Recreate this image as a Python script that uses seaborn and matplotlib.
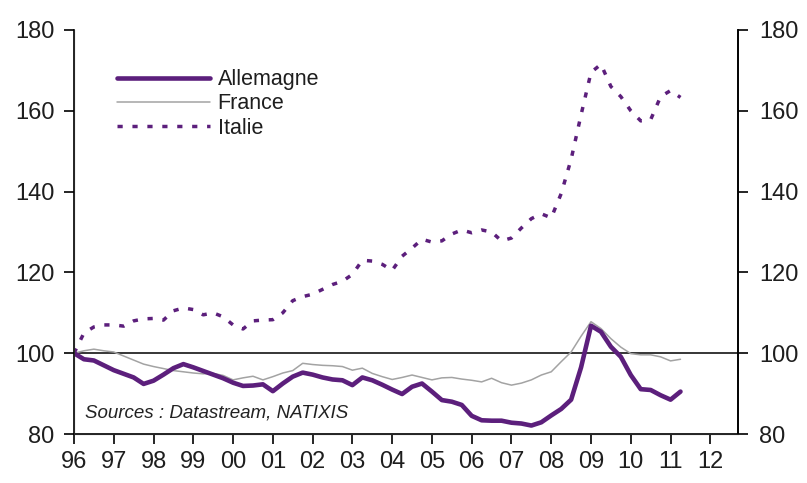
import numpy as np
import pandas as pd
import seaborn as sns
import matplotlib.pyplot as plt

# quarterly index, 96Q1 = 100
allemagne = [100, 98.5, 98.2, 97, 95.8, 94.9, 94, 92.4, 93.2, 94.7, 96.3, 97.3,
             96.5, 95.6, 94.7, 93.8, 92.7, 91.9, 92, 92.3, 90.6, 92.5, 94.2, 95.2,
             94.7, 94, 93.5, 93.3, 92.1, 94, 93.3, 92.2, 91, 89.9, 91.7, 92.5,
             90.5, 88.4, 88, 87.2, 84.5, 83.4, 83.3, 83.3, 82.8, 82.6, 82.1, 82.9,
             84.6, 86.2, 88.5, 96.5, 106.8, 105.3, 101.6, 99.1, 94.6, 91.1, 90.9, 89.6,
             88.5, 90.5]
france = [100, 100.6, 101, 100.6, 100.3, 99.3, 98.3, 97.3, 96.7, 96.2, 95.7, 95.4,
          95.1, 94.9, 95, 94.5, 93.4, 93.9, 94.3, 93.4, 94.2, 95.1, 95.7, 97.5,
          97.2, 97, 96.9, 96.7, 95.8, 96.3, 95, 94.2, 93.5, 94, 94.6, 94,
          93.4, 93.9, 94, 93.6, 93.3, 92.9, 93.8, 92.7, 92.1, 92.6, 93.4, 94.6,
          95.4, 97.9, 100.3, 104.2, 107.8, 106.1, 103.6, 101.5, 99.9, 99.6, 99.6, 99.1,
          98.1, 98.5]
italie = [100, 105, 106.5, 107, 107, 106.7, 108, 108.5, 108.6, 108.2, 110.5, 111.2,
          110.8, 109.5, 110, 109, 107, 106, 108, 108.2, 108.3, 110, 113, 114,
          114.6, 115.8, 117, 117.8, 119.5, 123, 122.8, 122, 120.5, 124, 126, 128.2,
          127.5, 127.8, 129.5, 130.5, 129.8, 130.5, 130, 127.8, 128.5, 131, 133.3, 134.5,
          133.5, 139.5, 148, 159, 169.5, 171.5, 166, 163.5, 160, 157.5, 157.8, 163.5,
          165, 163.3]
years = 1996 + np.arange(len(allemagne)) * 0.25
tick_years = list(range(1996, 2013))
tick_labels = ["%02d" % (y % 100) for y in tick_years]

df = pd.DataFrame({"annee": years, "Allemagne": allemagne,
                   "France": france, "Italie": italie})

sns.set_style("ticks")
plt.rcParams['font.family'] = ['Liberation Sans', 'DejaVu Sans']

purple = "#5c1f7c"
fig = plt.figure(figsize=(8.07, 4.83), dpi=100)
ax = fig.add_axes([0.0917, 0.1014, 0.823, 0.8366])

ax.axhline(100, color="black", lw=1.1, zorder=1)
sns.lineplot(data=df, x="annee", y="Allemagne", ax=ax, color=purple, lw=3.3,
             label="Allemagne", zorder=3)
sns.lineplot(data=df, x="annee", y="France", ax=ax, color="#a3a3a3", lw=1.1,
             label="France", zorder=2)
sns.lineplot(data=df, x="annee", y="Italie", ax=ax, color=purple, lw=2.5,
             label="Italie", zorder=3, dashes=False)
ax.lines[-1].set_dashes((1.5, 2.8))

ax.set_xlim(1996, 2012.7)
ax.set_ylim(80, 180)
ax.set_yticks(range(80, 181, 20))
ax.set_xticks(tick_years)
ax.set_xticklabels(tick_labels)
ax.set_xlabel("")
ax.set_ylabel("")
ax.tick_params(labelsize=17, length=7, width=1.2, color="black", labelcolor="#1e1e1e")
ax.tick_params(axis="y", pad=7)
ax.tick_params(axis="x", pad=5)
for s in ["left", "bottom", "right"]:
    ax.spines[s].set_linewidth(1.2)
    ax.spines[s].set_color("black")
ax.spines["top"].set_visible(False)

ax2 = ax.twinx()
ax2.set_ylim(80, 180)
ax2.set_yticks(range(80, 181, 20))
ax2.tick_params(labelsize=17, length=7, width=1.2, color="black", pad=8,
                labelcolor="#1e1e1e")
ax2.spines["top"].set_visible(False)
ax2.spines["right"].set_linewidth(1.2)
ax2.spines["right"].set_color("black")

leg = ax.legend(loc="upper left", bbox_to_anchor=(0.0648, 0.903), frameon=False,
                fontsize=15.5, handlelength=4.3, handletextpad=0.37,
                labelspacing=0.15, borderaxespad=0, borderpad=0)
for t in leg.get_texts():
    t.set_color("#1e1e1e")

ax.text(0.0166, 0.04, "Sources : Datastream, NATIXIS", transform=ax.transAxes,
        fontsize=13.5, style="italic", color="#222222", va="baseline")

fig.savefig("out.png", dpi=100)
